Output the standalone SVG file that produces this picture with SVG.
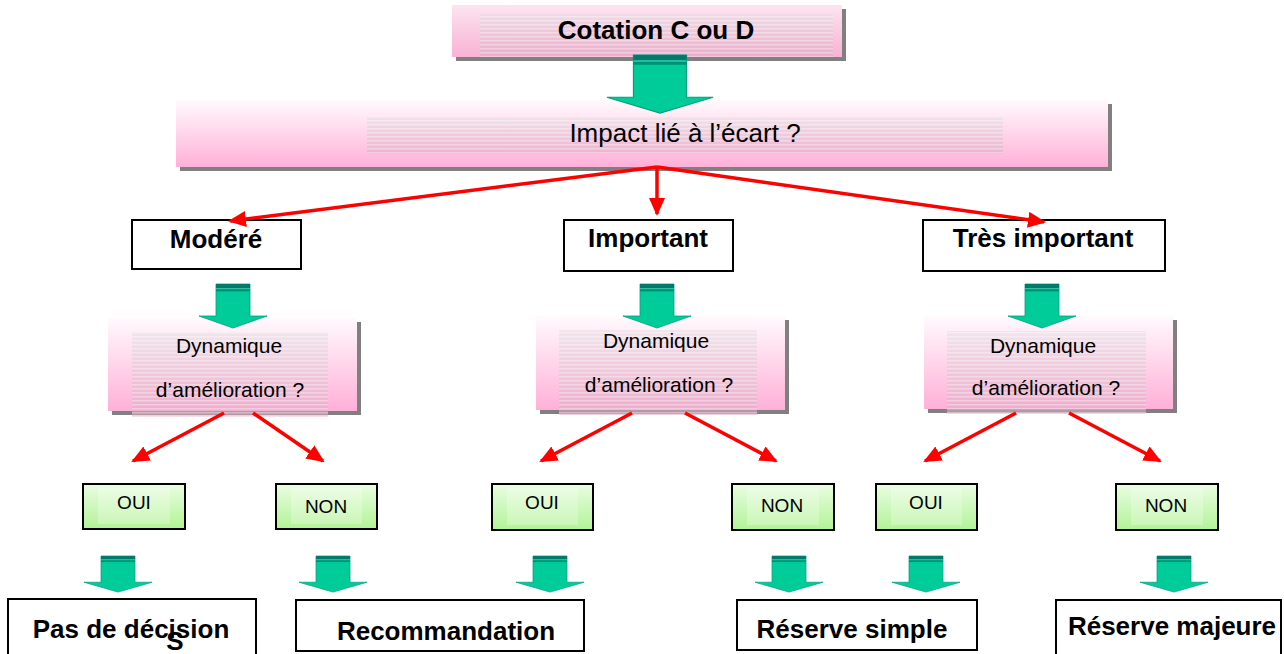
<svg xmlns="http://www.w3.org/2000/svg" width="1284" height="654" viewBox="0 0 1284 654">
<defs>
<linearGradient id="pink" x1="0" y1="0" x2="0" y2="1"><stop offset="0" stop-color="#fffafd"/><stop offset="1" stop-color="#ffb0d8"/></linearGradient>
<linearGradient id="pinkTop" x1="0" y1="0" x2="0" y2="1"><stop offset="0" stop-color="#fde4f0"/><stop offset="1" stop-color="#f9b2d4"/></linearGradient>
<linearGradient id="innerTint" x1="0" y1="0" x2="0" y2="1"><stop offset="0" stop-color="#e6dce2" stop-opacity="0.55"/><stop offset="1" stop-color="#e0a8c2" stop-opacity="0.55"/></linearGradient>
<linearGradient id="green" x1="0" y1="0" x2="0" y2="1"><stop offset="0" stop-color="#eafde2"/><stop offset="1" stop-color="#b2f396"/></linearGradient>
<pattern id="stripes" width="8" height="4" patternUnits="userSpaceOnUse"><rect width="8" height="1.5" fill="#ffffff" fill-opacity="0.35"/></pattern>
<marker id="ah" markerUnits="userSpaceOnUse" markerWidth="18" markerHeight="16" refX="16" refY="8" orient="auto"><path d="M0,0 L18,8 L0,16 Z" fill="#ff0000"/></marker>
<g id="ga">
<path d="M-17,0 H17 V32 H34 L0,44 L-34,32 H-17 Z" fill="#00cc99" stroke="#00a07e" stroke-width="0.8"/>
<rect x="-17" y="0" width="34" height="4" fill="#007a6a"/>
<rect x="-17" y="4" width="34" height="1.2" fill="#33c0a0"/>
<rect x="-17" y="5.2" width="34" height="2.2" fill="#008f78"/>
</g>
</defs>
<style>
.shadow{fill:#808080}
.pbox{fill:url(#pink)}
.tint{fill:url(#innerTint)}
.stripe{fill:url(#stripes)}
.wbox{fill:#ffffff;stroke:#000000;stroke-width:2}
.gbox{fill:url(#green);stroke:#000000;stroke-width:2}
.ginner{fill:#ffffff;fill-opacity:0.25}
.red{stroke:#ff0000;stroke-width:3.5;fill:none;marker-end:url(#ah)}
text{font-family:"Liberation Sans",Arial,sans-serif;fill:#000000;text-anchor:middle}
.b26{font-size:26px;font-weight:bold}
.r26{font-size:26px}
.r21{font-size:21px}
.r19{font-size:19px}
</style>
<rect width="1284" height="654" fill="#ffffff"/>

<g id="cotation">
<rect class="shadow" x="456" y="9" width="390" height="52"/>
<rect x="452" y="5" width="390" height="52" fill="url(#pinkTop)"/>
<rect class="tint" x="480" y="13" width="353" height="44"/>
<rect class="stripe" x="480" y="13" width="353" height="44"/>
<text class="b26" x="656" y="39">Cotation C ou D</text>
</g>

<g id="impact">
<rect class="shadow" x="180" y="104" width="932" height="67"/>
<rect class="pbox" x="176" y="100" width="932" height="67"/>
<rect class="tint" x="367" y="117" width="636" height="37"/>
<rect class="stripe" x="367" y="117" width="636" height="37"/>
<text class="r26" x="685" y="142">Impact lié à l’écart ?</text>
</g>

<g id="modere">
<rect class="wbox" x="132" y="220" width="169" height="49"/>
<text class="b26" x="216" y="248">Modéré</text>
</g>
<g id="important">
<rect class="wbox" x="564" y="220" width="169" height="51"/>
<text class="b26" x="648" y="247">Important</text>
</g>
<g id="tres-important">
<rect class="wbox" x="923" y="220" width="242" height="51"/>
<text class="b26" x="1043" y="247">Très important</text>
</g>

<g id="dyn-modere">
<rect class="shadow" x="112" y="322" width="249" height="93"/>
<rect class="pbox" x="108" y="318" width="249" height="93"/>
<rect class="tint" x="132" y="332" width="196" height="85"/>
<rect class="stripe" x="132" y="332" width="196" height="85"/>
<text class="r21" x="229" y="353">Dynamique</text>
<text class="r21" x="230" y="397">d’amélioration ?</text>
</g>
<g id="dyn-important">
<rect class="shadow" x="540" y="320" width="249" height="94"/>
<rect class="pbox" x="536" y="316" width="249" height="94"/>
<rect class="tint" x="559" y="330" width="198" height="85"/>
<rect class="stripe" x="559" y="330" width="198" height="85"/>
<text class="r21" x="656" y="348">Dynamique</text>
<text class="r21" x="659" y="392">d’amélioration ?</text>
</g>
<g id="dyn-tres">
<rect class="shadow" x="928" y="320" width="249" height="93"/>
<rect class="pbox" x="924" y="316" width="249" height="93"/>
<rect class="tint" x="947" y="331" width="199" height="83"/>
<rect class="stripe" x="947" y="331" width="199" height="83"/>
<text class="r21" x="1043" y="353">Dynamique</text>
<text class="r21" x="1046" y="395">d’amélioration ?</text>
</g>

<g id="oui-1">
<rect class="gbox" x="83" y="484" width="102" height="45"/>
<rect class="ginner" x="98" y="488" width="72" height="36"/>
<text class="r19" x="134" y="509">OUI</text>
</g>
<g id="non-1">
<rect class="gbox" x="276" y="484" width="101" height="45"/>
<rect class="ginner" x="291" y="488" width="71" height="36"/>
<text class="r19" x="326" y="513">NON</text>
</g>
<g id="oui-2">
<rect class="gbox" x="492" y="484" width="101" height="46"/>
<rect class="ginner" x="507" y="488" width="71" height="37"/>
<text class="r19" x="542" y="509">OUI</text>
</g>
<g id="non-2">
<rect class="gbox" x="732" y="484" width="102" height="46"/>
<rect class="ginner" x="747" y="488" width="72" height="37"/>
<text class="r19" x="782" y="512">NON</text>
</g>
<g id="oui-3">
<rect class="gbox" x="876" y="484" width="101" height="46"/>
<rect class="ginner" x="891" y="488" width="71" height="37"/>
<text class="r19" x="926" y="509">OUI</text>
</g>
<g id="non-3">
<rect class="gbox" x="1116" y="484" width="102" height="46"/>
<rect class="ginner" x="1131" y="488" width="72" height="37"/>
<text class="r19" x="1166" y="512">NON</text>
</g>

<g id="pas-de-decision">
<rect class="wbox" x="8" y="599" width="248" height="70"/>
<text class="b26" x="131" y="638">Pas de décision</text>
<text class="b26" x="175" y="650">S</text>
</g>
<g id="recommandation">
<rect class="wbox" x="296" y="600" width="288" height="51"/>
<text class="b26" x="446" y="640">Recommandation</text>
</g>
<g id="reserve-simple">
<rect class="wbox" x="737" y="600" width="240" height="50"/>
<text class="b26" x="852" y="638">Réserve simple</text>
</g>
<g id="reserve-majeure">
<rect class="wbox" x="1056" y="600" width="225" height="70"/>
<text class="b26" x="1172" y="635">Réserve majeure</text>
</g>

<g id="connectors">
<use href="#ga" transform="translate(660,55) scale(1.56,1.32)"/>
<path class="red" d="M657,167 L230,221"/>
<path class="red" d="M657,167 L657,214"/>
<path class="red" d="M657,167 L1044,222"/>
<use href="#ga" transform="translate(233,284)"/>
<use href="#ga" transform="translate(657,284)"/>
<use href="#ga" transform="translate(1042,284)"/>
<path class="red" d="M224,413 L133,461"/>
<path class="red" d="M253,413 L323,461"/>
<path class="red" d="M632,413 L541,461"/>
<path class="red" d="M685,413 L776,461"/>
<path class="red" d="M1016,413 L925,461"/>
<path class="red" d="M1069,413 L1160,461"/>
<use href="#ga" transform="translate(118,556) scale(1,0.82)"/>
<use href="#ga" transform="translate(333,556) scale(1,0.82)"/>
<use href="#ga" transform="translate(550,556) scale(1,0.82)"/>
<use href="#ga" transform="translate(789,556) scale(1,0.82)"/>
<use href="#ga" transform="translate(926,556) scale(1,0.82)"/>
<use href="#ga" transform="translate(1174,556) scale(1,0.82)"/>
</g>
</svg>
